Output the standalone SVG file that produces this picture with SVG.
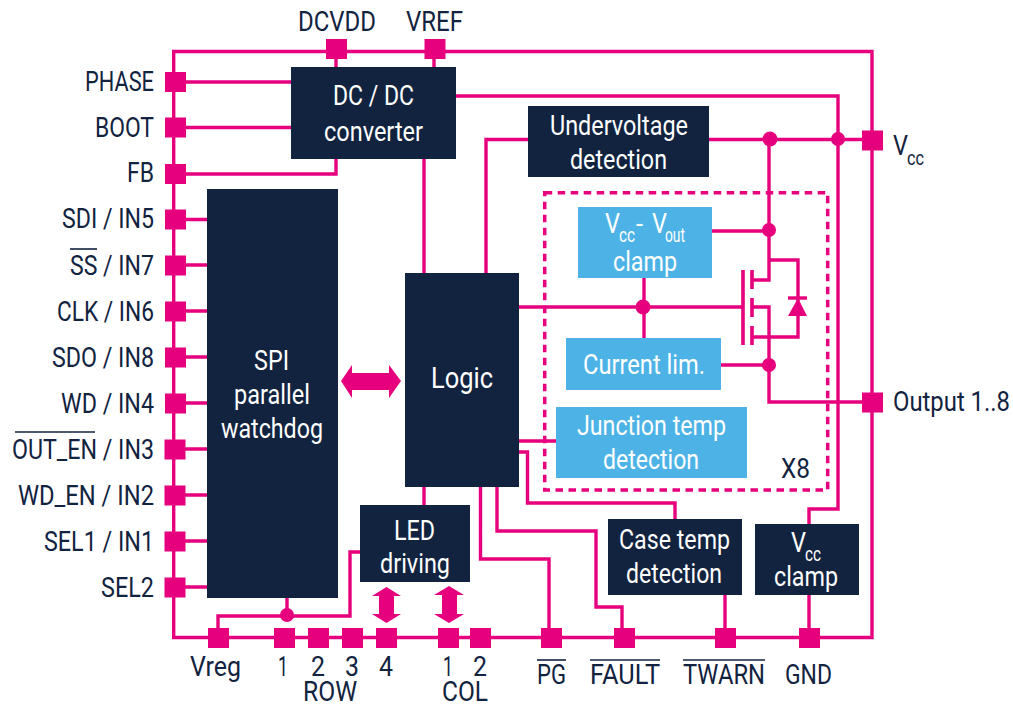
<svg xmlns="http://www.w3.org/2000/svg" width="1013" height="704" viewBox="0 0 1013 704">
<style>
text{font-family:"Roboto","Liberation Sans",sans-serif;font-size:27.500px;fill:#12233f}
.w{fill:#fff}
.sub{font-size:20px}
.d{fill:#12233f}
.b{fill:#4db3e6}
.p{fill:#e6007e}
.c{fill:none;stroke:#e6007e;stroke-width:3.4}
.o{fill:none;stroke:#12233f;stroke-width:1.6}
</style>
<defs><rect id="pin" x="-10.5" y="-10" width="21" height="20" class="p"/></defs>
<rect width="1013" height="704" fill="#fff"/>
<g id="connectors">
<path class="c" d="M173.7 637.5V51.5H872V637.5Z"/>
<path class="c" d="M175 82H291M175 127.500H291M175 174H336V159M336 49V67M434 49V67M424 159V273"/>
<path class="c" d="M175 219.500H207M175 265H207M175 311H207M175 357H207M175 403H207M175 449H207M175 495H207M175 541H207M175 587H207"/>
<path class="c" d="M456 96H838V509H809V524M709 139.500H872M528 139.500H486V273"/>
<path class="c" d="M519 307H743M644 278V338M712 231H769M721 365H769M769 139.500V280H752M769 260H798V337H752M752 307H769V402H872"/>
<path class="c" d="M519 441H556M519 452H527.500V503H675V519M497 487V531H596V607H622V637M480.500 487V559H549V637M424 487V505"/>
<path class="c" d="M360 552H350V616H218V637M287 598V615M725 595V637M809 595V637"/>
<path fill="none" stroke="#e6007e" stroke-width="3.5" stroke-dasharray="7.500 5.500" d="M544.700 192.700H827.700V490H544.700Z"/>
<g class="p">
<circle cx="770" cy="139" r="7.500"/><circle cx="838" cy="139" r="7"/><circle cx="769" cy="230" r="7"/><circle cx="643" cy="307" r="7.500"/><circle cx="769" cy="365" r="7"/><circle cx="287" cy="615" r="7"/>
<path d="M341 381L352 365V373H389V365L401 381L389 398V390H352V398Z"/>
<path d="M386.500 587L401 596H394V614H401L386.500 623L372 614H379V596H372Z"/>
<path d="M449 586L464 595H457V614H464L449 623L434 614H442V595H434Z"/>
<path d="M798 298L807 316H788Z"/>
</g>
<path class="c" d="M788 298H807"/>
<path fill="none" stroke="#e6007e" stroke-width="3.600" d="M743 270V345M752 270V289M752 298V317M752 326V345"/>
</g>
<g id="node-dcdc"><rect class="d" x="291" y="67" width="165" height="92"/><text class="w" x="333" y="105" textLength="81" lengthAdjust="spacingAndGlyphs">DC / DC</text><text class="w" x="324" y="140.500" textLength="99" lengthAdjust="spacingAndGlyphs">converter</text></g>
<g id="node-undervoltage"><rect class="d" x="528" y="106" width="181" height="71"/><text class="w" x="550" y="134.500" textLength="138" lengthAdjust="spacingAndGlyphs">Undervoltage</text><text class="w" x="570" y="169" textLength="97" lengthAdjust="spacingAndGlyphs">detection</text></g>
<g id="node-spi"><rect class="d" x="207" y="189" width="131" height="409"/><text class="w" x="254" y="370" textLength="35" lengthAdjust="spacingAndGlyphs">SPI</text><text class="w" x="234" y="404" textLength="76" lengthAdjust="spacingAndGlyphs">parallel</text><text class="w" x="221" y="438" textLength="102" lengthAdjust="spacingAndGlyphs">watchdog</text></g>
<g id="node-logic"><rect class="d" x="405" y="273" width="114" height="214"/><text class="w" style="font-size:30px" x="431" y="388" textLength="62" lengthAdjust="spacingAndGlyphs">Logic</text></g>
<g id="node-led"><rect class="d" x="360" y="505" width="110" height="77"/><text class="w" x="394" y="540" textLength="41" lengthAdjust="spacingAndGlyphs">LED</text><text class="w" x="380" y="573" textLength="70" lengthAdjust="spacingAndGlyphs">driving</text></g>
<g id="node-casetemp"><rect class="d" x="608" y="519" width="134" height="76"/><text class="w" x="619" y="549" textLength="111" lengthAdjust="spacingAndGlyphs">Case temp</text><text class="w" x="626" y="583" textLength="96" lengthAdjust="spacingAndGlyphs">detection</text></g>
<g id="node-vccclamp"><rect class="d" x="755" y="524" width="104" height="71"/><text class="w"><tspan x="791" y="552" textLength="15" lengthAdjust="spacingAndGlyphs">V</tspan><tspan class="sub" x="805" y="561" textLength="16" lengthAdjust="spacingAndGlyphs">cc</tspan></text><text class="w" x="774" y="586" textLength="64" lengthAdjust="spacingAndGlyphs">clamp</text></g>
<g id="node-vccvout"><rect class="b" x="578" y="207" width="134" height="71"/><text class="w"><tspan x="605" y="233" textLength="15" lengthAdjust="spacingAndGlyphs">V</tspan><tspan class="sub" x="619" y="242" textLength="16" lengthAdjust="spacingAndGlyphs">cc</tspan><tspan x="636" y="233" textLength="7" lengthAdjust="spacingAndGlyphs">-</tspan><tspan x="652" y="233" textLength="15" lengthAdjust="spacingAndGlyphs">V</tspan><tspan class="sub" x="665" y="242" textLength="20" lengthAdjust="spacingAndGlyphs">out</tspan></text><text class="w" x="613" y="270.500" textLength="64" lengthAdjust="spacingAndGlyphs">clamp</text></g>
<g id="node-currentlim"><rect class="b" x="566" y="338" width="155" height="52"/><text class="w" x="583" y="374" textLength="122" lengthAdjust="spacingAndGlyphs">Current lim.</text></g>
<g id="node-junction"><rect class="b" x="556" y="407" width="191" height="71"/><text class="w" x="577" y="435" textLength="149" lengthAdjust="spacingAndGlyphs">Junction temp</text><text class="w" x="603" y="469" textLength="96" lengthAdjust="spacingAndGlyphs">detection</text></g>
<text id="x8-label" x="781" y="478" textLength="29" lengthAdjust="spacingAndGlyphs">X8</text>
<g id="pin-dcvdd"><use href="#pin" x="336.500" y="49"/><text x="298" y="31" textLength="78" lengthAdjust="spacingAndGlyphs">DCVDD</text></g>
<g id="pin-vref"><use href="#pin" x="435" y="49"/><text x="406" y="31" textLength="57" lengthAdjust="spacingAndGlyphs">VREF</text></g>
<g id="pin-phase"><use href="#pin" x="175.500" y="82"/><text x="85" y="91" textLength="69" lengthAdjust="spacingAndGlyphs">PHASE</text></g>
<g id="pin-boot"><use href="#pin" x="175.500" y="127.500"/><text x="95" y="137" textLength="59" lengthAdjust="spacingAndGlyphs">BOOT</text></g>
<g id="pin-fb"><use href="#pin" x="175.500" y="174"/><text x="127" y="182" textLength="27" lengthAdjust="spacingAndGlyphs">FB</text></g>
<g id="pin-sdi"><use href="#pin" x="175.500" y="219.500"/><text x="62" y="228" textLength="92" lengthAdjust="spacingAndGlyphs">SDI / IN5</text></g>
<g id="pin-ss"><use href="#pin" x="175.500" y="265.500"/><text x="70" y="275" textLength="84" lengthAdjust="spacingAndGlyphs">SS / IN7</text><path class="o" d="M70 249H97"/></g>
<g id="pin-clk"><use href="#pin" x="175.500" y="311.500"/><text x="57" y="321" textLength="97" lengthAdjust="spacingAndGlyphs">CLK / IN6</text></g>
<g id="pin-sdo"><use href="#pin" x="175.500" y="357.500"/><text x="52" y="367" textLength="102" lengthAdjust="spacingAndGlyphs">SDO / IN8</text></g>
<g id="pin-wd"><use href="#pin" x="175.500" y="403.500"/><text x="61" y="413" textLength="93" lengthAdjust="spacingAndGlyphs">WD / IN4</text></g>
<g id="pin-outen"><use href="#pin" x="175" y="449.500"/><text x="12" y="459" textLength="142" lengthAdjust="spacingAndGlyphs">OUT_EN / IN3</text><path class="o" d="M15 432H95"/></g>
<g id="pin-wden"><use href="#pin" x="175" y="495.500"/><text x="18" y="505" textLength="136" lengthAdjust="spacingAndGlyphs">WD_EN / IN2</text></g>
<g id="pin-sel1"><use href="#pin" x="175" y="541.500"/><text x="44" y="551" textLength="110" lengthAdjust="spacingAndGlyphs">SEL1 / IN1</text></g>
<g id="pin-sel2"><use href="#pin" x="175" y="587.500"/><text x="101" y="597" textLength="53" lengthAdjust="spacingAndGlyphs">SEL2</text></g>
<g id="pin-vcc"><use href="#pin" x="872.500" y="140.500"/><text><tspan x="893" y="155" textLength="15" lengthAdjust="spacingAndGlyphs">V</tspan><tspan class="sub" x="907" y="165" textLength="17" lengthAdjust="spacingAndGlyphs">cc</tspan></text></g>
<g id="pin-output"><use href="#pin" x="872.500" y="402.500"/><text x="893" y="411" textLength="117" lengthAdjust="spacingAndGlyphs">Output 1..8</text></g>
<g id="pin-vreg"><use href="#pin" x="218.500" y="638"/><text x="190" y="676" textLength="51" lengthAdjust="spacingAndGlyphs">Vreg</text></g>
<g id="pin-row1"><use href="#pin" x="284.500" y="638"/><text x="278" y="676" textLength="10" lengthAdjust="spacingAndGlyphs">1</text></g>
<g id="pin-row2"><use href="#pin" x="318.500" y="638"/><text x="311" y="676" textLength="14" lengthAdjust="spacingAndGlyphs">2</text></g>
<g id="pin-row3"><use href="#pin" x="352.500" y="638"/><text x="345" y="676" textLength="14" lengthAdjust="spacingAndGlyphs">3</text></g>
<g id="pin-row4"><use href="#pin" x="386.500" y="638"/><text x="379" y="676" textLength="14" lengthAdjust="spacingAndGlyphs">4</text></g>
<text id="row-label" x="303" y="701" textLength="54" lengthAdjust="spacingAndGlyphs">ROW</text>
<g id="pin-col1"><use href="#pin" x="448.500" y="638"/><text x="443" y="676" textLength="10" lengthAdjust="spacingAndGlyphs">1</text></g>
<g id="pin-col2"><use href="#pin" x="480.500" y="638"/><text x="473" y="676" textLength="14" lengthAdjust="spacingAndGlyphs">2</text></g>
<text id="col-label" x="442" y="701" textLength="46" lengthAdjust="spacingAndGlyphs">COL</text>
<g id="pin-pg"><use href="#pin" x="551.500" y="638"/><text x="537" y="684" textLength="29" lengthAdjust="spacingAndGlyphs">PG</text><path class="o" d="M537 660H566"/></g>
<g id="pin-fault"><use href="#pin" x="624.500" y="638"/><text x="590" y="684" textLength="70" lengthAdjust="spacingAndGlyphs">FAULT</text><path class="o" d="M590 660H660"/></g>
<g id="pin-twarn"><use href="#pin" x="725.500" y="638"/><text x="683" y="684" textLength="82" lengthAdjust="spacingAndGlyphs">TWARN</text><path class="o" d="M683 660H765"/></g>
<g id="pin-gnd"><use href="#pin" x="809.500" y="638"/><text x="785" y="684" textLength="47" lengthAdjust="spacingAndGlyphs">GND</text></g>
</svg>
